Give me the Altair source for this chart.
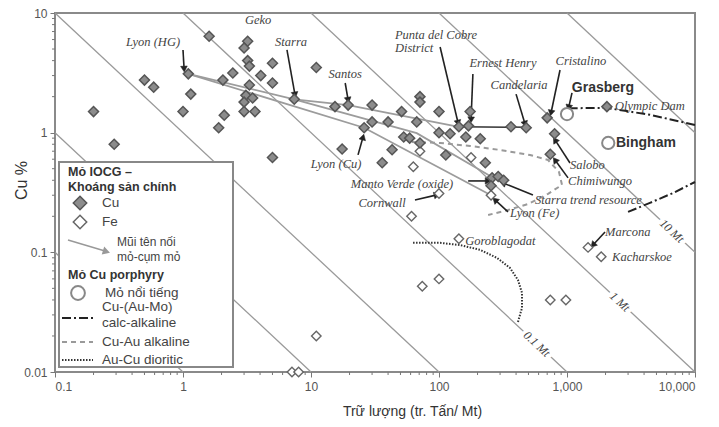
import math
import altair as alt
import pandas as pd

W, H = 640, 359
XDOM = [0.1, 10000]
YDOM = [0.01, 10]
PXX = W / 5.0   # pixels per decade (x)
PXY = H / 3.0   # pixels per decade (y)

# ---------------- data ----------------
# IOCG deposits, Cu as main commodity
cu_tonnage = [0.2, 0.29, 0.5, 0.59, 1.1, 1.15, 1.0, 1.6, 2.05, 2.45, 2.1, 1.9, 3.2, 3.0, 3.2, 3.3,
              4.05, 3.3, 3.1, 3.5, 3.0, 3.0, 3.65, 5.0, 5.0, 5.0, 11, 7.4, 15.4, 19.5, 17.5,
              30, 26, 30, 40, 51, 67, 71, 71, 100, 175, 143, 170, 365, 480, 700, 800, 740,
              100, 122, 162, 210, 53, 59, 71, 43, 113, 230, 36, 260, 290, 320, 255, 2050]
cu_grade = [1.5, 0.8, 2.75, 2.4, 3.1, 2.1, 1.5, 6.4, 2.75, 3.15, 1.4, 1.1, 5.8, 5.1, 4.0, 3.6,
            3.0, 2.5, 2.05, 1.95, 1.8, 1.5, 1.5, 3.8, 2.6, 0.62, 3.5, 1.9, 1.65, 1.7, 0.73,
            1.7, 1.1, 1.23, 1.23, 1.5, 1.23, 2.0, 1.8, 1.5, 1.5, 1.12, 1.14, 1.12, 1.1, 1.33, 0.98, 0.66,
            1.0, 0.98, 0.92, 0.89, 0.92, 0.90, 0.82, 0.72, 0.65, 0.56, 0.56, 0.42, 0.43, 0.40, 0.36, 1.65]
# IOCG deposits, Fe as main commodity
fe_tonnage = [71, 178, 63, 100, 255, 61, 143, 74, 100, 740, 980, 1460, 1850, 11, 7.1, 8.0]
fe_grade = [0.70, 0.62, 0.52, 0.31, 0.30, 0.20, 0.13, 0.052, 0.06, 0.04, 0.04, 0.11, 0.092, 0.02, 0.01, 0.01]
# famous porphyry Cu deposits
porphyry_tonnage = [1000, 2100]
porphyry_grade = [1.43, 0.82]

# contained-metal reference lines (tonnage x grade = const)
iso_group = ["a", "a", "b", "b", "c", "c", "d", "d", "e", "e", "f", "f", "g", "g"]
iso_x = [0.1, 1, 0.1, 10, 0.1, 100, 1, 1000, 10, 10000, 100, 10000, 1000, 10000]
iso_y = [0.1, 0.01, 1, 0.01, 10, 0.01, 10, 0.01, 10, 0.01, 10, 0.1, 10, 1]
iso_labels = ["0.1 Mt", "1 Mt", "10 Mt"]
iso_label_x = [583, 2594, 6610]
iso_label_y = [0.01715, 0.0386, 0.151]

# arrows linking deposit to cluster
conn_group = ["a"] * 4 + ["b"] * 3 + ["c"] * 3
conn_x = [1.1, 7.4, 19.5, 143, 1.1, 26, 255, 7.4, 67, 265]
conn_y = [3.1, 1.9, 1.7, 1.12, 3.1, 1.1, 0.30, 1.9, 0.99, 0.42]
district_x = [143, 480]
district_y = [1.12, 1.11]

# porphyry fields
calc1_x = [1030, 2054, 4446, 10000]
calc1_y = [1.6, 1.61, 1.41, 1.16]
calc2_x = [2999, 4446, 6730, 10000]
calc2_y = [0.2175, 0.259, 0.313, 0.387]
alk_x = [61.5, 102, 175, 300, 514, 711, 866, 914, 711, 496, 346, 242]
alk_y = [0.836, 0.82, 0.774, 0.717, 0.651, 0.591, 0.47, 0.366, 0.308, 0.253, 0.226, 0.205]
dio_x = [62.7, 102, 146, 209, 284, 359, 414, 445, 445, 414]
dio_y = [0.12, 0.12, 0.115, 0.105, 0.0898, 0.074, 0.0588, 0.0458, 0.0343, 0.0262]

# annotations
lab_c_text = ["Lyon (HG)", "Geko", "Starra", "Santos", "Ernest Henry", "Candelaria", "Cristalino",
              "Lyon (Cu)", "Manto Verde (oxide)", "Cornwall"]
lab_c_x = [0.583, 3.86, 6.98, 18.5, 316, 422, 1285, 15.7, 51.4, 35.9]
lab_c_y = [5.73, 8.74, 5.73, 3.09, 3.82, 2.50, 3.97, 0.548, 0.373, 0.259]
lab_l_text = ["Punta del Cobre", "District", "Olympic Dam", "Salobo", "Chimiwungo",
              "Starra trend resource", "Lyon (Fe)", "Goroblagodat", "Marcona", "Kacharskoe"]
lab_l_x = [45.3, 45.3, 2371, 1055, 1019, 562, 359, 160, 1982, 2249]
lab_l_y = [6.55, 5.10, 1.67, 0.537, 0.395, 0.274, 0.213, 0.1245, 0.148, 0.0916]
bold_text = ["Grasberg", "Bingham"]
bold_x = [1910, 2415]
bold_y = [2.36, 0.82]
bold_align = ["center", "left"]

arrow_x0 = [1.0, 6.49, 18.5, 102, 184, 400, 882, 1094, 23.3, 169, 64.9, 542, 346, 1055, 1019, 1982]
arrow_y0 = [4.91, 4.91, 2.60, 5.2, 3.09, 2.10, 3.34, 2.15, 0.652, 0.395, 0.274, 0.302, 0.2175, 0.558, 0.419, 0.148]
arrow_x1 = [1.02, 7.50, 19.5, 141, 178, 470, 750, 1030, 25.5, 242, 96.4, 316, 274, 806, 806, 1596]
arrow_y1 = [3.40, 2.07, 1.87, 1.205, 1.28, 1.18, 1.46, 1.62, 0.92, 0.395, 0.302, 0.38, 0.274, 0.87, 0.591, 0.115]

minor_x = [m * 10.0 ** e for e in range(-1, 4) for m in range(2, 10)]
minor_y = [m * 10.0 ** e for e in range(-2, 1) for m in range(2, 10)]

# legend entries
leg_bold_text = ["Mỏ IOCG –", "Khoáng sản chính", "Mỏ Cu porphyry"]
leg_norm_text = ["Cu", "Fe", "Mỏ nổi tiếng", "Cu-(Au-Mo)", "calc-alkaline", "Cu-Au alkaline", "Au-Cu dioritic"]
leg_small_text = ["Mũi tên nối", "mỏ-cụm mỏ"]

# ---------------- helpers ----------------
SERIF = "Liberation Serif"
SANS = "Liberation Sans"
ONE = pd.DataFrame({"a": [0]})

xs = alt.Scale(type="log", domain=XDOM, nice=False)
ys = alt.Scale(type="log", domain=YDOM, nice=False)

x_axis = alt.Axis(values=[0.1, 1, 10, 100, 1000, 10000], format=",", title="Trữ lượng (tr. Tấn/ Mt)",
                  grid=False, domain=False, tickSize=5, tickColor="#777", labelFont=SANS, labelFontSize=12,
                  labelColor="#555", labelPadding=4, titleFont=SANS, titleFontSize=14, titleFontWeight="normal",
                  titleColor="#333", titleX=357, titleY=39, titleAlign="center", titleBaseline="middle")
y_axis = alt.Axis(values=[0.01, 0.1, 1, 10], format=",", title="Cu %", grid=False, domain=False, tickSize=5,
                  tickColor="#777", labelFont=SANS, labelFontSize=12, labelColor="#555", labelPadding=3,
                  titleFont=SANS, titleFontSize=16, titleFontWeight="normal", titleColor="#333",
                  titleAngle=270, titleX=-34, titleY=167, titleAlign="center", titleBaseline="middle")


def X(f="x"):
    return alt.X(f, type="quantitative", scale=xs, axis=x_axis)


def Y(f="y"):
    return alt.Y(f, type="quantitative", scale=ys, axis=y_axis)


def path_df(xv, yv, grp=None):
    return pd.DataFrame({"x": xv, "y": yv, "g": grp if grp else ["p"] * len(xv), "o": list(range(len(xv)))})


def head_angle(x0, y0, x1, y1):
    dx = (math.log10(x1) - math.log10(x0)) * PXX
    dy = -(math.log10(y1) - math.log10(y0)) * PXY
    return math.degrees(math.atan2(dx, -dy)) % 360


layers = []

# iso lines
layers.append(alt.Chart(path_df(iso_x, iso_y, iso_group)).mark_line(color="#9a9a9a", strokeWidth=1.3).encode(
    x=X(), y=Y(), detail="g:N", order="o:Q"))
iso_df = pd.DataFrame({"x": iso_label_x, "y": iso_label_y, "t": iso_labels})
layers.append(alt.Chart(iso_df).mark_text(angle=43, font=SERIF, fontStyle="italic", fontSize=12,
                                          fill="white", stroke="white", strokeWidth=7).encode(x=X(), y=Y(), text="t:N"))
layers.append(alt.Chart(iso_df).mark_text(angle=43, font=SERIF, fontStyle="italic", fontSize=12,
                                          color="#444").encode(x=X(), y=Y(), text="t:N"))

# minor ticks
layers.append(alt.Chart(pd.DataFrame({"x": minor_x})).mark_rule(color="#777", strokeWidth=1).encode(
    x=X(), y=alt.value(H), y2=alt.value(H + 3)))
layers.append(alt.Chart(pd.DataFrame({"y": minor_y})).mark_rule(color="#777", strokeWidth=1).encode(
    y=Y(), x=alt.value(0), x2=alt.value(-3)))

# porphyry curves
layers.append(alt.Chart(path_df(alk_x, alk_y)).mark_line(color="#9a9a9a", strokeWidth=2, strokeDash=[5, 4]).encode(
    x=X(), y=Y(), order="o:Q"))
layers.append(alt.Chart(path_df(dio_x, dio_y)).mark_line(color="#333", strokeWidth=2, strokeDash=[1.5, 1.5]).encode(
    x=X(), y=Y(), order="o:Q"))
for cx, cy in [(calc1_x, calc1_y), (calc2_x, calc2_y)]:
    layers.append(alt.Chart(path_df(cx, cy)).mark_line(color="#222", strokeWidth=2, strokeDash=[9, 3, 2, 3]).encode(
        x=X(), y=Y(), order="o:Q"))

# connecting arrows
layers.append(alt.Chart(path_df(conn_x, conn_y, conn_group)).mark_line(color="#9c9c9c", strokeWidth=1.8).encode(
    x=X(), y=Y(), detail="g:N", order="o:Q"))
layers.append(alt.Chart(path_df(district_x, district_y)).mark_line(color="#333", strokeWidth=1.5).encode(
    x=X(), y=Y(), order="o:Q"))

# annotation arrows
arr_df = pd.DataFrame({"x": arrow_x0, "y": arrow_y0, "x2": arrow_x1, "y2": arrow_y1,
                       "ang": [head_angle(a, b, c, d) for a, b, c, d in zip(arrow_x0, arrow_y0, arrow_x1, arrow_y1)]})
layers.append(alt.Chart(arr_df).mark_rule(color="#222", strokeWidth=1.6).encode(
    x=X(), y=Y(), x2="x2:Q", y2="y2:Q"))
layers.append(alt.Chart(arr_df).mark_point(shape="triangle-up", filled=True, fill="#222", stroke="#222",
                                           strokeWidth=0.5, size=45, opacity=1).encode(
    x=X("x2"), y=Y("y2"), angle=alt.Angle("ang:Q", scale=None)))

# data points
cu_df = pd.DataFrame({"x": cu_tonnage, "y": cu_grade})
fe_df = pd.DataFrame({"x": fe_tonnage, "y": fe_grade})
po_df = pd.DataFrame({"x": porphyry_tonnage, "y": porphyry_grade})

layers.append(alt.Chart(fe_df).mark_point(shape="diamond", filled=True, fill="white", stroke="#666",
                                          strokeWidth=1.4, size=90, opacity=1).encode(x=X(), y=Y()))
layers.append(alt.Chart(cu_df).mark_point(shape="diamond", filled=True, fill="#8c8c8c", stroke="#555",
                                          strokeWidth=1.5, size=100, opacity=1).encode(x=X(), y=Y()))
layers.append(alt.Chart(po_df).mark_point(shape="circle", filled=True, fill="white", stroke="#888",
                                          strokeWidth=2, size=150, opacity=1).encode(x=X(), y=Y()))

# labels
layers.append(alt.Chart(pd.DataFrame({"x": lab_c_x, "y": lab_c_y, "t": lab_c_text})).mark_text(
    font=SERIF, fontStyle="italic", fontSize=12.5, color="#444", align="center", baseline="middle").encode(
    x=X(), y=Y(), text="t:N"))
layers.append(alt.Chart(pd.DataFrame({"x": lab_l_x, "y": lab_l_y, "t": lab_l_text})).mark_text(
    font=SERIF, fontStyle="italic", fontSize=12.5, color="#444", align="left", baseline="middle").encode(
    x=X(), y=Y(), text="t:N"))
for t, bx, by, al in zip(bold_text, bold_x, bold_y, bold_align):
    layers.append(alt.Chart(pd.DataFrame({"x": [bx], "y": [by], "t": [t]})).mark_text(
        font=SANS, fontWeight="bold", fontSize=14, color="#333", align=al, baseline="middle").encode(
        x=X(), y=Y(), text="t:N"))

# ---------------- legend (fixed block inside plot area) ----------------
layers.append(alt.Chart(ONE).mark_rect(fill="white", stroke="#888", strokeWidth=2).encode(
    x=alt.value(4), x2=alt.value(178), y=alt.value(149), y2=alt.value(354)))


def legend_text(t, px, py, **kw):
    return alt.Chart(ONE).mark_text(font=SANS, align="left", baseline="middle", **kw).encode(
        x=alt.value(px), y=alt.value(py), text=alt.value(t))


for t, py in zip(leg_bold_text, [159, 174, 262]):
    layers.append(legend_text(t, 13, py, fontWeight="bold", fontSize=12.5, color="#333"))
for t, px, py in zip(leg_norm_text, [47, 47, 50, 47, 47, 47, 47], [190, 209, 280, 294, 310, 329, 347]):
    layers.append(legend_text(t, px, py, fontSize=13.5, color="#444"))
for t, py in zip(leg_small_text, [229, 244]):
    layers.append(legend_text(t, 62, py, fontSize=12, color="#444"))

layers.append(alt.Chart(ONE).mark_point(shape="diamond", filled=True, fill="#8c8c8c", stroke="#555",
                                        strokeWidth=1.5, size=180, opacity=1).encode(
    x=alt.value(25), y=alt.value(190)))
layers.append(alt.Chart(ONE).mark_point(shape="diamond", filled=True, fill="white", stroke="#666",
                                        strokeWidth=1.5, size=180, opacity=1).encode(
    x=alt.value(25), y=alt.value(209)))
layers.append(alt.Chart(ONE).mark_point(shape="circle", filled=True, fill="white", stroke="#888",
                                        strokeWidth=2, size=190, opacity=1).encode(
    x=alt.value(23), y=alt.value(280)))
layers.append(alt.Chart(ONE).mark_rule(color="#999", strokeWidth=1.5).encode(
    x=alt.value(13), y=alt.value(227), x2=alt.value(50), y2=alt.value(238)))
layers.append(alt.Chart(ONE).mark_point(shape="triangle-up", filled=True, fill="#999", stroke="#999",
                                        size=25, opacity=1, angle=107).encode(
    x=alt.value(51), y=alt.value(238.5)))
for py, col, dash in [(305, "#222", [9, 3, 2, 3]), (329, "#9a9a9a", [5, 4]), (347, "#333", [1.5, 1.5])]:
    layers.append(alt.Chart(ONE).mark_rule(color=col, strokeWidth=2, strokeDash=dash).encode(
        x=alt.value(7), x2=alt.value(38), y=alt.value(py)))

chart = alt.layer(*layers).properties(
    width=W, height=H,
    padding={"left": 55, "top": 13, "right": 24, "bottom": 55},
    autosize=alt.AutoSizeParams(type="none"),
).configure(background="white").configure_view(stroke="#8a8a8a", strokeWidth=2)

chart.save("out.html", embed_options={"renderer": "svg", "actions": False})
